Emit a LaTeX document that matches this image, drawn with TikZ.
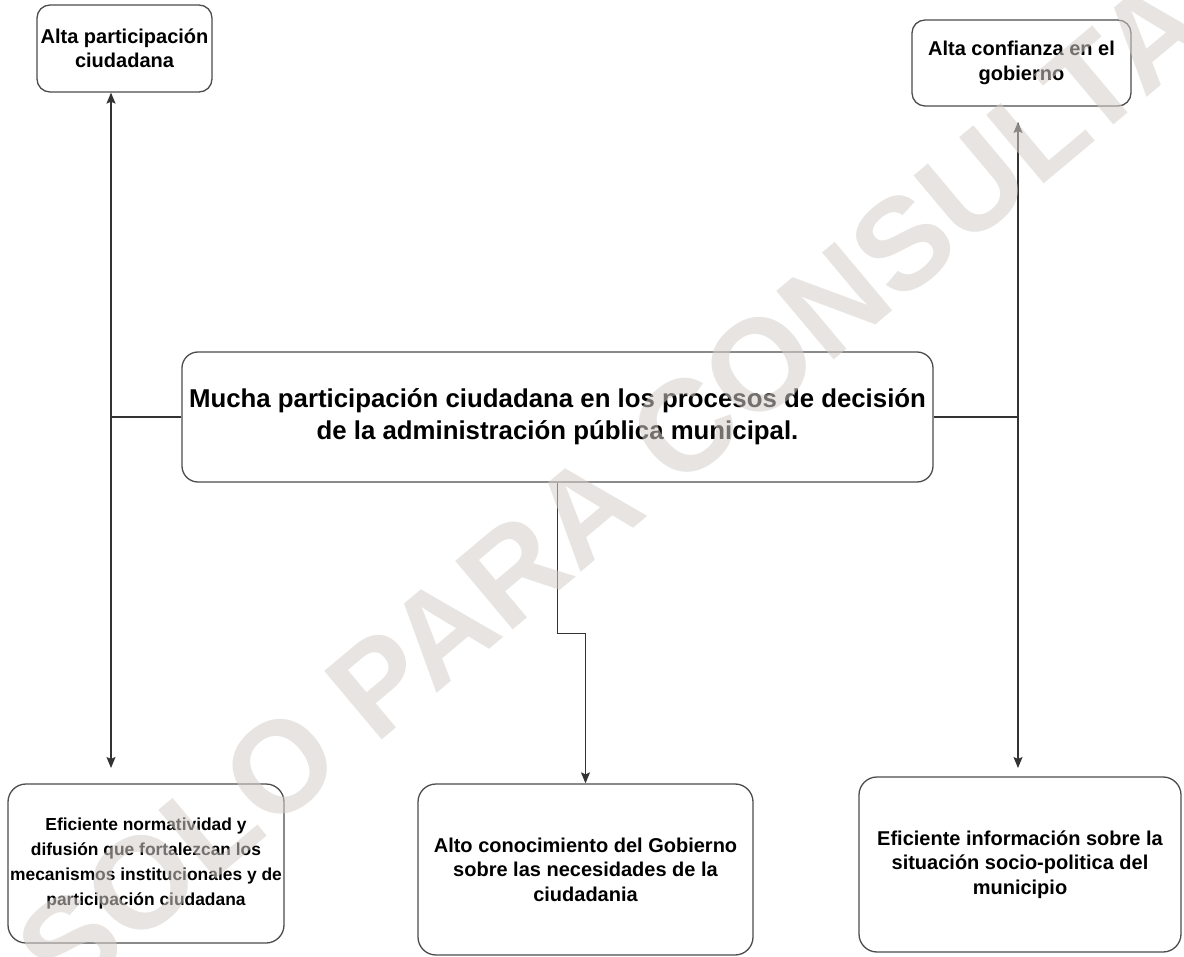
\documentclass[tikz,border=0pt]{standalone}
\usepackage{fontspec}
\setmainfont{Liberation Sans}
\usetikzlibrary{arrows.meta}
\definecolor{marcagris}{RGB}{212,205,200}

\begin{document}
\begin{tikzpicture}[x=1pt,y=-1pt,
        caja/.style={draw=black!70,line width=1.3pt,rounded corners=13pt,align=center,inner sep=0pt,font=\bfseries\fontsize{20}{24.5}\selectfont},
        linea/.style={draw=black!80,line width=1.3pt},
        flecha/.style={linea,-{Stealth[length=11pt,width=9pt,inset=2pt]}}]
        \useasboundingbox (0,0) rectangle (1184,957);
        \node[caja,minimum width=175,minimum height=87] (altapart) at (124.5,48.5) {Alta participación\\ciudadana};
        \node[caja,minimum width=219,minimum height=86] (altaconf) at (1021.5,63) {Alta confianza en el\\gobierno};
        \node[caja,minimum width=751,minimum height=130,rounded corners=16pt,font=\bfseries\fontsize{25.8}{32}\selectfont] (mucha) at (557.5,417) {Mucha participación ciudadana en los procesos de decisión\\de la administración pública municipal.};
        \node[caja,minimum width=276,minimum height=159,rounded corners=18pt,font=\bfseries\fontsize{17.4}{24.7}\selectfont] (normat) at (146,863.5) {Eficiente normatividad y\\difusión que fortalezcan los\\mecanismos institucionales y de\\participación ciudadana};
        \node[caja,minimum width=335,minimum height=171,rounded corners=18pt] (conoc) at (585.5,869.5) {Alto conocimiento del Gobierno\\sobre las necesidades de la\\ciudadania};
        \node[caja,minimum width=322,minimum height=175,rounded corners=18pt] (inform) at (1020,864.5) {Eficiente información sobre la\\situación socio-politica del\\municipio};
        \coordinate (izq) at (111,417);
        \coordinate (izqabajo) at (111,768);
        \coordinate (der) at (1018,417);
        \coordinate (derarriba) at (1018,122);
        \coordinate (derabajo) at (1018,768);
        \draw[linea] (mucha.west) -- (izq);
        \draw[flecha] (izq) -- (izq |- altapart.south);
        \draw[flecha] (izq) -- (izqabajo);
        \draw[linea] (mucha.east) -- (der);
        \draw[flecha] (der) -- (derarriba);
        \draw[flecha] (der) -- (derabajo);
        \draw[flecha] (mucha.south) -- ++(0,151) -| (conoc.north);
        \node[rotate=40,text=marcagris,opacity=0.55,font=\bfseries\fontsize{130}{130}\selectfont] (marca) at (612,488) {SOLO PARA CONSULTA};
\end{tikzpicture}
\end{document}
